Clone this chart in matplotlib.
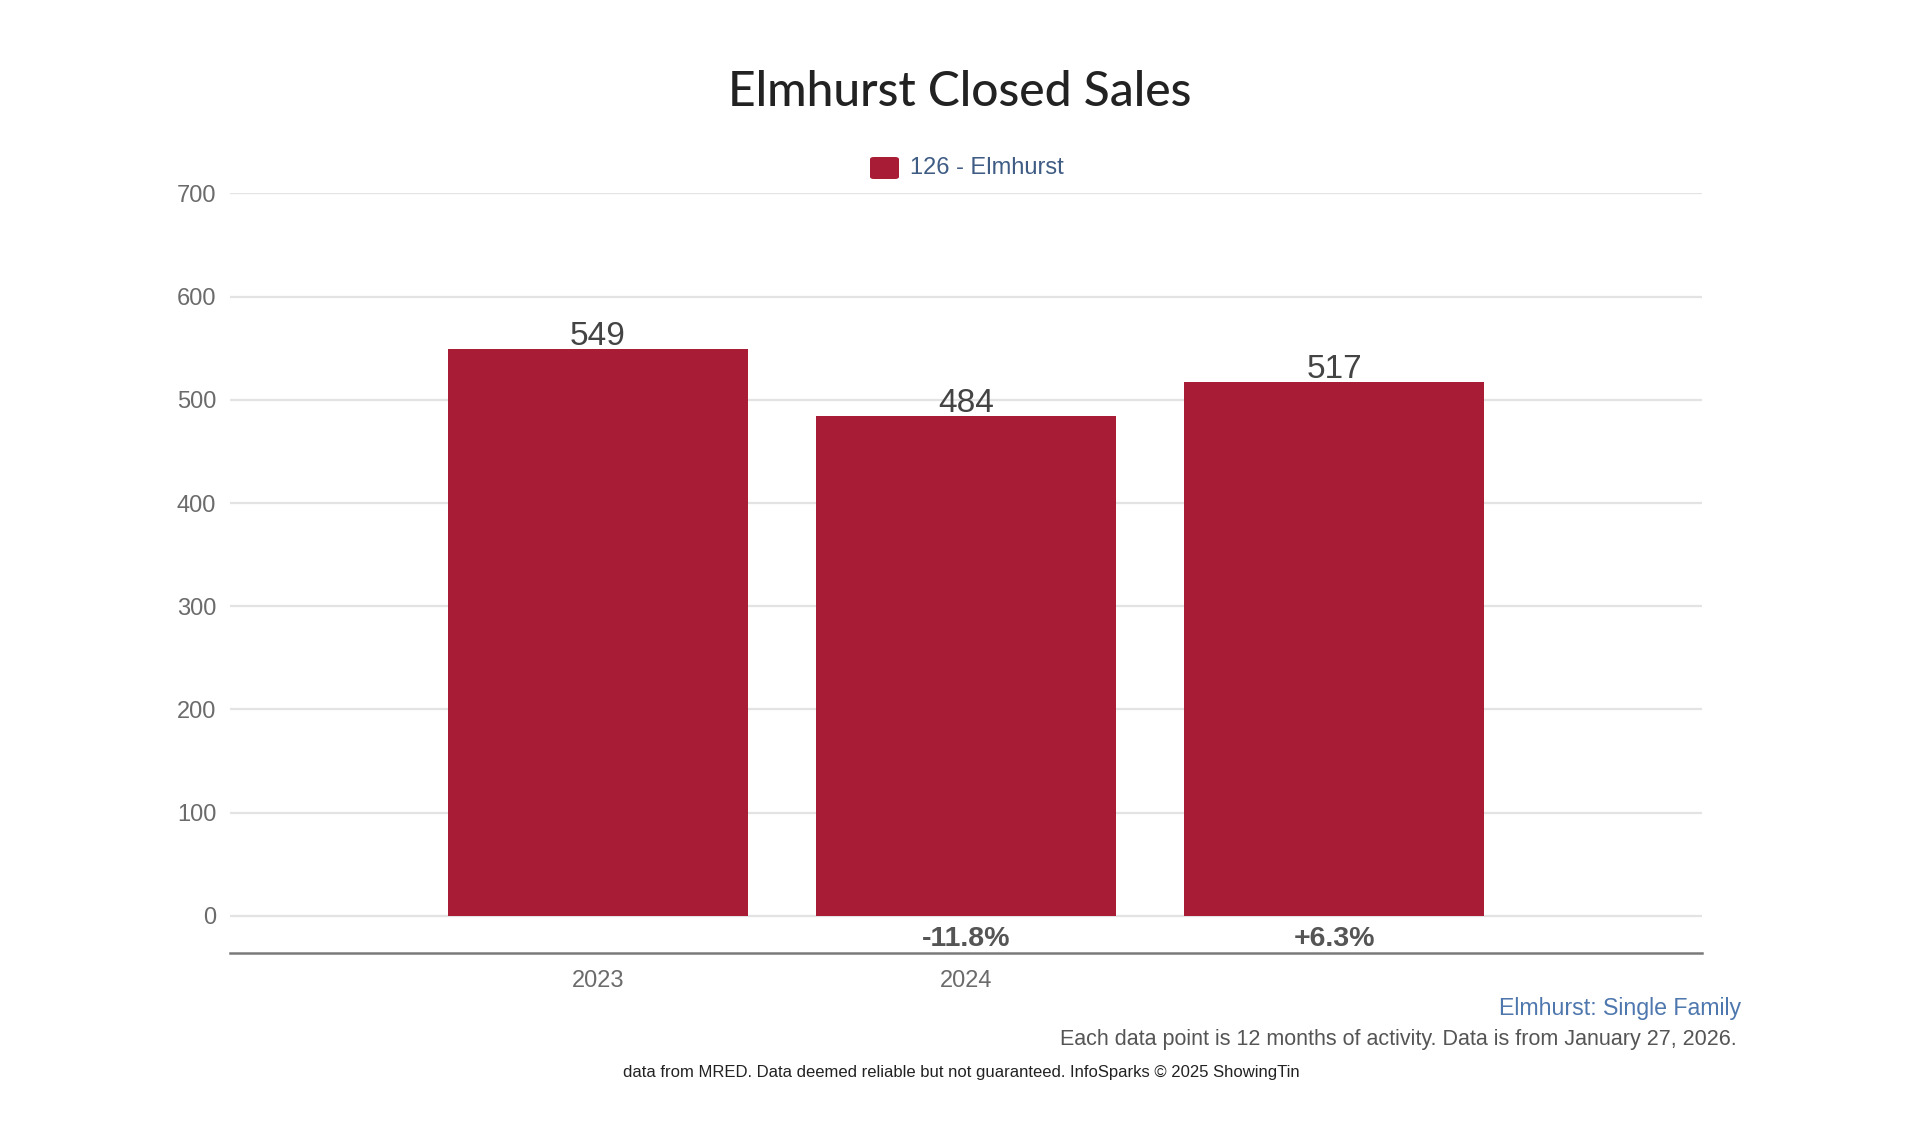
import matplotlib.pyplot as plt
import matplotlib.patches as mpatches
import numpy as np

# ── Colours ──────────────────────────────────────────────────────────────────
BAR     = "#A91C36"
GRID    = "#E3E3E3"
AXIS    = "#7A7A7A"
TICK    = "#6B6B6B"
VALUE   = "#444444"
BLUE    = "#3F5C84"
LINK    = "#4E77AE"

plt.rcParams["font.family"] = ["Liberation Sans", "DejaVu Sans"]

# ── Data ─────────────────────────────────────────────────────────────────────
years       = ["2023", "2024", ""]
sales       = [549, 484, 517]
pct_change  = ["", "-11.8%", "+6.3%"]
y_ticks     = [0, 100, 200, 300, 400, 500, 600, 700]

# ── Figure ───────────────────────────────────────────────────────────────────
fig = plt.figure(figsize=(19.2, 11.23), dpi=100, facecolor="white")
ax = fig.add_axes([0.1198, 0.1514, 0.7667, 0.6763])

x = np.arange(len(sales))
bars = ax.bar(x, sales, width=0.814, color=BAR, zorder=3)

ax.set_xlim(-1, 3)
ax.set_ylim(-36, 700)
ax.set_yticks(y_ticks)
ax.set_yticklabels([str(v) for v in y_ticks], fontsize=17, color=TICK)
ax.set_xticks(x)
ax.set_xticklabels(years, fontsize=17, color=TICK)
ax.tick_params(axis="both", length=0)
ax.tick_params(axis="y", pad=10)
ax.tick_params(axis="x", pad=12)

for v in y_ticks:
    ax.axhline(v, color=GRID, linewidth=1.6, zorder=1)

for s in ["top", "right", "left"]:
    ax.spines[s].set_visible(False)
ax.spines["bottom"].set_color(AXIS)
ax.spines["bottom"].set_linewidth(1.8)

for bar, val in zip(bars, sales):
    ax.text(bar.get_x() + bar.get_width() / 2, val - 3, str(val),
            ha="center", va="bottom", fontsize=24, color=VALUE, zorder=4)

for xi, p in zip(x, pct_change):
    if p:
        ax.text(xi, -22, p, ha="center", va="center", fontsize=20.5,
                fontweight="bold", color="#555555")

# ── Title & legend ───────────────────────────────────────────────────────────
fig.text(0.5, 1 - 92 / 1123, "Elmhurst Closed Sales", ha="center", va="center",
         fontsize=34.5, color="#222222", family=["Lato", "DejaVu Sans"], fontweight="medium")

fig.patches.append(mpatches.FancyBboxPatch(
    (870 / 1920, 1 - 179 / 1123), 29 / 1920, 22 / 1123,
    boxstyle="round,pad=0,rounding_size=0.002", transform=fig.transFigure,
    facecolor=BAR, edgecolor="none"))
fig.text(910 / 1920, 1 - 168 / 1123, "126 - Elmhurst", ha="left", va="center",
         fontsize=17, color=BLUE)

# ── Footer notes ─────────────────────────────────────────────────────────────
fig.text(1741 / 1920, 1 - 1009 / 1123, "Elmhurst: Single Family", ha="right",
         va="center", fontsize=16.7, color=LINK)
fig.text(1737 / 1920, 1 - 1040 / 1123,
         "Each data point is 12 months of activity. Data is from January 27, 2026.",
         ha="right", va="center", fontsize=15.5, color="#555555")
fig.text(961 / 1920, 1 - 1073 / 1123,
         "data from MRED. Data deemed reliable but not guaranteed. InfoSparks © 2025 ShowingTin",
         ha="center", va="center", fontsize=12, color="#222222")

plt.savefig("out.png", dpi=100, facecolor="white")
